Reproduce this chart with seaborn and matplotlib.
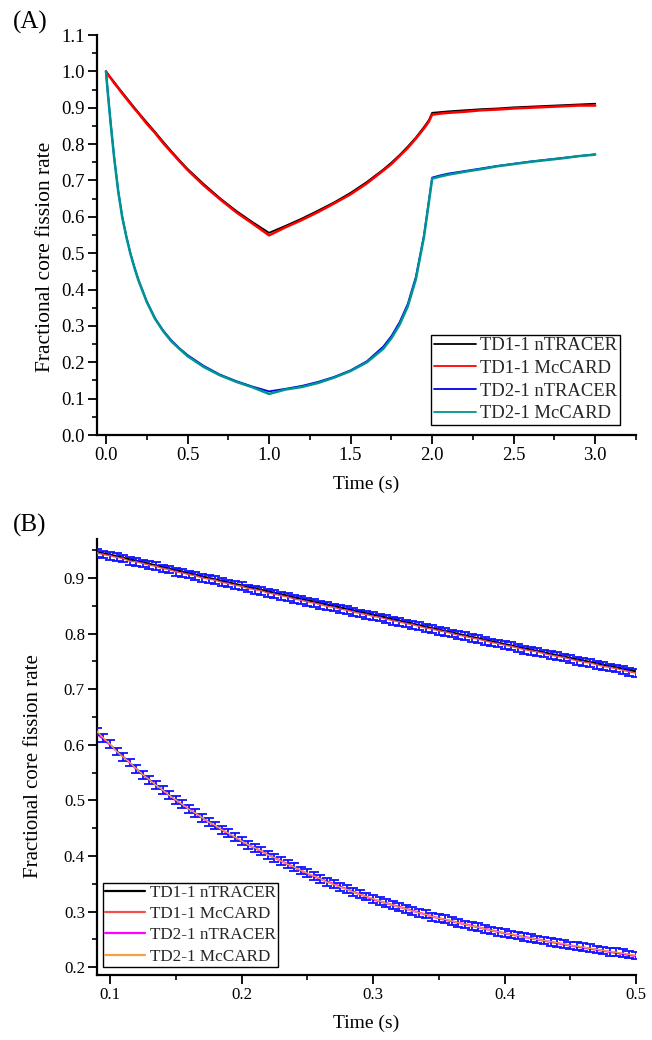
import numpy as np
import pandas as pd
import matplotlib
matplotlib.use("Agg")
import matplotlib.pyplot as plt
from matplotlib.ticker import MultipleLocator, FormatStrFormatter
import seaborn as sns

# ---------------- Panel (A) data ----------------
T_A = [0.0, 0.01, 0.02, 0.03, 0.05, 0.075, 0.1, 0.125, 0.15, 0.175, 0.2, 0.25, 0.3, 0.35,
       0.4, 0.45, 0.5, 0.6, 0.7, 0.8, 0.9, 1.0, 1.1, 1.2, 1.3, 1.4, 1.5, 1.6, 1.7, 1.75,
       1.8, 1.85, 1.9, 1.95, 1.98, 2.0, 2.05, 2.1, 2.2, 2.3, 2.4, 2.5, 2.6, 2.7, 2.8, 2.9, 3.0]

TD1_NTRACER_A = [1.000, 0.994, 0.988, 0.982, 0.971, 0.956, 0.942, 0.928, 0.914, 0.900, 0.8865,
                 0.860, 0.834, 0.807, 0.781, 0.756, 0.732, 0.690, 0.651, 0.616, 0.585, 0.556,
                 0.575, 0.595, 0.617, 0.640, 0.666, 0.696, 0.730, 0.749, 0.770, 0.793, 0.818,
                 0.847, 0.866, 0.886, 0.888, 0.890, 0.893, 0.896, 0.898, 0.901, 0.903, 0.905,
                 0.907, 0.909, 0.911]
TD1_MCCARD_A = [1.000, 0.993, 0.986, 0.981, 0.968, 0.954, 0.939, 0.925, 0.911, 0.897, 0.884,
                0.856, 0.831, 0.803, 0.778, 0.753, 0.729, 0.686, 0.648, 0.612, 0.581, 0.549,
                0.571, 0.591, 0.613, 0.637, 0.662, 0.692, 0.727, 0.745, 0.767, 0.789, 0.815,
                0.843, 0.862, 0.881, 0.884, 0.886, 0.889, 0.893, 0.895, 0.898, 0.900, 0.902,
                0.904, 0.906, 0.906]
TD2_NTRACER_A = [1.000, 0.949, 0.900, 0.853, 0.765, 0.672, 0.600, 0.546, 0.500, 0.461, 0.426,
                 0.368, 0.322, 0.288, 0.261, 0.239, 0.220, 0.190, 0.166, 0.148, 0.133, 0.120,
                 0.127, 0.135, 0.146, 0.160, 0.178, 0.203, 0.243, 0.272, 0.310, 0.360, 0.435,
                 0.550, 0.645, 0.708, 0.714, 0.719, 0.726, 0.733, 0.740, 0.746, 0.752, 0.757,
                 0.762, 0.767, 0.772]
TD2_MCCARD_A = [1.000, 0.947, 0.899, 0.851, 0.763, 0.670, 0.598, 0.545, 0.498, 0.459, 0.424,
                0.366, 0.320, 0.286, 0.258, 0.237, 0.217, 0.187, 0.164, 0.146, 0.131, 0.113,
                0.125, 0.132, 0.143, 0.158, 0.176, 0.200, 0.237, 0.266, 0.303, 0.353, 0.428,
                0.545, 0.640, 0.705, 0.711, 0.716, 0.724, 0.731, 0.739, 0.745, 0.751, 0.756,
                0.761, 0.767, 0.771]

LABELS_A = ["TD1-1 nTRACER", "TD1-1 McCARD", "TD2-1 nTRACER", "TD2-1 McCARD"]
COLORS_A = ["#000000", "#ff0000", "#0000e6", "#009393"]

# ---------------- Panel (B) data ----------------
T_B_NT = [0.09, 0.1, 0.125, 0.15, 0.175, 0.2, 0.25, 0.3, 0.35, 0.4, 0.45, 0.5]
TD1_NTRACER_B = [0.9466, 0.9418, 0.928, 0.914, 0.900, 0.8865, 0.860, 0.834, 0.807, 0.781, 0.756, 0.732]
TD2_NTRACER_B = [0.620, 0.600, 0.546, 0.500, 0.461, 0.426, 0.368, 0.322, 0.288, 0.261, 0.239, 0.220]

T_B_MC = [0.090, 0.095, 0.100, 0.105, 0.110, 0.115, 0.120, 0.125, 0.130, 0.135, 0.140, 0.145, 0.150,
          0.155, 0.160, 0.165, 0.170, 0.175, 0.180, 0.185, 0.190, 0.195, 0.200, 0.205, 0.210,
          0.215, 0.220, 0.225, 0.230, 0.235, 0.240, 0.245, 0.250, 0.255, 0.260, 0.265, 0.270,
          0.275, 0.280, 0.285, 0.290, 0.295, 0.300, 0.305, 0.310, 0.315, 0.320, 0.325, 0.330,
          0.335, 0.340, 0.345, 0.350, 0.355, 0.360, 0.365, 0.370, 0.375, 0.380, 0.385, 0.390,
          0.395, 0.400, 0.405, 0.410, 0.415, 0.420, 0.425, 0.430, 0.435, 0.440, 0.445, 0.450,
          0.455, 0.460, 0.465, 0.470, 0.475, 0.480, 0.485, 0.490, 0.495, 0.500]
TD1_MCCARD_B = [0.945, 0.942, 0.940, 0.937, 0.935, 0.930, 0.929, 0.926, 0.923, 0.921, 0.917, 0.915, 0.911,
                0.909, 0.906, 0.904, 0.900, 0.898, 0.896, 0.892, 0.890, 0.887, 0.885, 0.881, 0.879,
                0.877, 0.873, 0.871, 0.868, 0.866, 0.862, 0.860, 0.857, 0.855, 0.852, 0.849, 0.847,
                0.844, 0.842, 0.839, 0.836, 0.834, 0.831, 0.829, 0.826, 0.823, 0.821, 0.818, 0.816,
                0.813, 0.810, 0.808, 0.805, 0.803, 0.800, 0.797, 0.795, 0.792, 0.790, 0.787, 0.784,
                0.782, 0.779, 0.777, 0.774, 0.771, 0.769, 0.767, 0.764, 0.761, 0.759, 0.757, 0.754,
                0.751, 0.749, 0.747, 0.744, 0.741, 0.739, 0.737, 0.734, 0.731, 0.729]
TD2_MCCARD_B = [0.624, 0.612, 0.601, 0.588, 0.578, 0.568, 0.557, 0.546, 0.537, 0.527, 0.519, 0.509, 0.501,
                0.493, 0.484, 0.477, 0.469, 0.461, 0.455, 0.447, 0.441, 0.434, 0.427, 0.420, 0.415,
                0.409, 0.402, 0.397, 0.391, 0.385, 0.380, 0.374, 0.369, 0.364, 0.359, 0.353, 0.349,
                0.344, 0.340, 0.335, 0.331, 0.327, 0.323, 0.319, 0.315, 0.312, 0.308, 0.305, 0.301,
                0.298, 0.295, 0.291, 0.288, 0.286, 0.283, 0.280, 0.277, 0.274, 0.272, 0.269, 0.266,
                0.264, 0.261, 0.259, 0.257, 0.254, 0.252, 0.250, 0.248, 0.246, 0.244, 0.242, 0.239,
                0.238, 0.236, 0.234, 0.232, 0.230, 0.228, 0.227, 0.225, 0.223, 0.221]
MCCARD_ERR_B = 0.007

LABELS_B = ["TD1-1 nTRACER", "TD1-1 McCARD", "TD2-1 nTRACER", "TD2-1 McCARD"]
COLORS_B = ["#000000", "#f4504a", "#ff00ff", "#f5a040"]
ERR_COLOR = "#1010ff"

# ---------------- Styling ----------------
sns.set_theme(style="ticks")
plt.rcParams["font.family"] = ["Liberation Serif", "DejaVu Serif"]

W, H = 652, 1040
fig = plt.figure(figsize=(W / 100, H / 100), dpi=100)

axA = fig.add_axes([97 / W, 1 - 435 / H, (636 - 97) / W, 400 / H])
axB = fig.add_axes([97 / W, 1 - 975 / H, (636 - 97) / W, (975 - 539) / H])


def style_axes(ax, tick_fs):
    for side in ("top", "right"):
        ax.spines[side].set_visible(False)
    for side in ("left", "bottom"):
        ax.spines[side].set_linewidth(1.6)
        ax.spines[side].set_color("black")
    ax.tick_params(axis="both", which="major", direction="out", length=6.2, width=1.3,
                   labelsize=tick_fs, colors="black", pad=2.5)
    ax.tick_params(axis="both", which="minor", direction="out", length=3.5, width=1.2,
                   colors="black")
    ax.set_facecolor("white")
    ax.grid(False)


# ---- Panel A ----
seriesA = [TD1_NTRACER_A, TD1_MCCARD_A, TD2_NTRACER_A, TD2_MCCARD_A]
widthsA = [1.3, 1.8, 1.3, 1.8]
for i in [0, 2, 1, 3]:
    sns.lineplot(x=T_A, y=seriesA[i], ax=axA, color=COLORS_A[i], lw=widthsA[i],
                 estimator=None, sort=False, label=LABELS_A[i])
axA.set_xlim(-0.055, 3.25)
axA.set_ylim(0.0, 1.1)
axA.xaxis.set_major_locator(MultipleLocator(0.5))
axA.xaxis.set_minor_locator(MultipleLocator(0.25))
axA.yaxis.set_major_locator(MultipleLocator(0.1))
axA.yaxis.set_minor_locator(MultipleLocator(0.05))
axA.xaxis.set_major_formatter(FormatStrFormatter("%.1f"))
axA.yaxis.set_major_formatter(FormatStrFormatter("%.1f"))
style_axes(axA, 13.5)
axA.set_xlabel("Time (s)", fontsize=14, labelpad=8, color="black")
axA.set_ylabel("Fractional core fission rate", fontsize=15.5, color="black")
axA.yaxis.set_label_coords(-0.078, 0.445)
hA, lA = axA.get_legend_handles_labels()
idx = [lA.index(s) for s in LABELS_A]
legA = axA.legend([hA[i] for i in idx], [lA[i] for i in idx], loc="lower right",
                  bbox_to_anchor=(0.970, 0.025), borderaxespad=0,
                  fontsize=13.4, frameon=True, fancybox=False, framealpha=1,
                  edgecolor="black", handlelength=2.3, handletextpad=0.2,
                  borderpad=0.15, labelspacing=0.3)
legA.get_frame().set_linewidth(1.0)
for line in legA.get_lines():
    line.set_linewidth(1.3)

# ---- Panel B ----
sns.lineplot(x=T_B_NT, y=TD1_NTRACER_B, ax=axB, color=COLORS_B[0], lw=1.6,
             estimator=None, sort=False, label=LABELS_B[0])
sns.lineplot(x=T_B_NT, y=TD2_NTRACER_B, ax=axB, color=COLORS_B[2], lw=1.6,
             estimator=None, sort=False, label=LABELS_B[2])
for yv in (TD1_MCCARD_B, TD2_MCCARD_B):
    axB.errorbar(T_B_MC, yv, yerr=MCCARD_ERR_B, fmt="none", ecolor=ERR_COLOR,
                 elinewidth=1.3, capsize=3.5, capthick=1.3, zorder=3)
sns.lineplot(x=T_B_MC, y=TD1_MCCARD_B, ax=axB, color=COLORS_B[1], lw=1.0,
             estimator=None, sort=False, label=LABELS_B[1], zorder=4)
sns.lineplot(x=T_B_MC, y=TD2_MCCARD_B, ax=axB, color=COLORS_B[3], lw=1.0,
             estimator=None, sort=False, label=LABELS_B[3], zorder=4)
axB.set_xlim(0.0901, 0.5)
axB.set_ylim(0.186, 0.97)
axB.xaxis.set_major_locator(MultipleLocator(0.1))
axB.xaxis.set_minor_locator(MultipleLocator(0.05))
axB.yaxis.set_major_locator(MultipleLocator(0.1))
axB.yaxis.set_minor_locator(MultipleLocator(0.05))
axB.xaxis.set_major_formatter(FormatStrFormatter("%.1f"))
axB.yaxis.set_major_formatter(FormatStrFormatter("%.1f"))
style_axes(axB, 12.2)
axB.set_xlabel("Time (s)", fontsize=14, labelpad=8, color="black")
axB.set_ylabel("Fractional core fission rate", fontsize=15, color="black")
axB.yaxis.set_label_coords(-0.100, 0.48)
hB, lB = axB.get_legend_handles_labels()
idx = [lB.index(s) for s in LABELS_B]
legB = axB.legend([hB[i] for i in idx], [lB[i] for i in idx], loc="lower left",
                  bbox_to_anchor=(0.011, 0.018), borderaxespad=0,
                  fontsize=12.3, frameon=True, fancybox=False, framealpha=1,
                  edgecolor="black", handlelength=2.3, handletextpad=0.3,
                  borderpad=0.15, labelspacing=0.3)
legB.get_frame().set_linewidth(1.0)
for line in legB.get_lines():
    line.set_linewidth(1.6)

fig.text(13 / W, 1 - 22 / H, "(A)", fontsize=18, va="center", ha="left", color="black")
fig.text(13 / W, 1 - 525 / H, "(B)", fontsize=18, va="center", ha="left", color="black")

fig.savefig("out.png", dpi=100, facecolor="white")
